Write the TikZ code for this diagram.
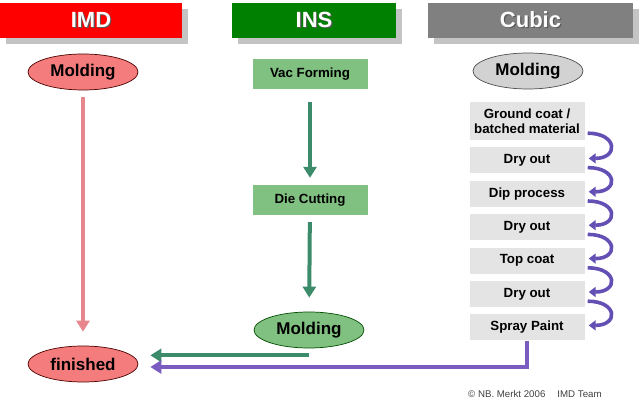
\documentclass[tikz,border=0pt]{standalone}
\usepackage{fontspec}
\setmainfont{Liberation Sans}
\usetikzlibrary{arrows.meta, shapes.geometric, positioning, shadows}

\definecolor{imdred}{HTML}{FF0000}
\definecolor{insgreen}{HTML}{008000}
\definecolor{cubicgray}{HTML}{808080}
\definecolor{barshadow}{HTML}{C4C4C4}
\definecolor{imdfill}{HTML}{F47C7C}
\definecolor{insfill}{HTML}{80C080}
\definecolor{cubicfill}{HTML}{D2D2D2}
\definecolor{stepfill}{HTML}{E4E4E4}
\definecolor{pinkline}{HTML}{E8868E}
\definecolor{greenline}{HTML}{3C8C6C}
\definecolor{purpleline}{HTML}{7A5CC0}
\definecolor{curlline}{HTML}{6450B4}

\newcommand\embossed[1]{\rlap{\kern1.2pt\raisebox{-1.2pt}{\color{black!65}#1}}#1}

\begin{document}
\begin{tikzpicture}[x=1pt, y=-1pt,
  headbar/.style={minimum height=35pt, inner sep=0pt, text=white,
    font=\fontsize{22}{24}\selectfont\bfseries,
    drop shadow={shadow xshift=6pt, shadow yshift=-6pt, fill=barshadow, opacity=1}},
  oval/.style={ellipse, draw, line width=0.7pt, minimum width=110pt, minimum height=36pt,
    inner sep=0pt, font=\fontsize{17}{19}\selectfont\bfseries},
  insbox/.style={fill=insfill, minimum width=115pt, minimum height=30pt, inner sep=0pt,
    font=\fontsize{13.3}{15}\selectfont\bfseries},
  stepbox/.style={fill=stepfill, minimum width=115pt, minimum height=26pt, inner sep=0pt,
    align=center, font=\fontsize{13.3}{15.5}\selectfont\bfseries},
  flow/.style={line width=4pt, -{Triangle[width=13pt,length=11pt]}},
  curl/.style={line width=3.6pt, draw=curlline, -{Triangle[width=10pt,length=7pt]}}]
\useasboundingbox (0,0) rectangle (640,411);
% IMD
\node[headbar, fill=imdred, minimum width=182pt] (imd) at (91,20.5) {\embossed{IMD}};
\node[oval, fill=imdfill, draw=black!70!red] (imdmold) at (83,72) {Molding};
\node[oval, fill=imdfill, draw=black!70!red] (finished) at (83,364) {finished};
\draw[flow, pinkline, shorten <=7pt, shorten >=14pt] (imdmold) -- (finished);
% INS
\node[headbar, fill=insgreen, minimum width=164pt] (ins) at (314,20.5) {\embossed{INS}};
\node[insbox] (vac) at (310,74) {Vac Forming};
\node[insbox] (die) at (310,200) {Die Cutting};
\node[oval, fill=insfill, draw=black!70!green] (insmold) at (309,330) {Molding};
\draw[flow, greenline, shorten <=13pt, shorten >=7pt] (vac) -- (die);
\draw[flow, greenline, shorten <=7pt, shorten >=14pt] (die) -- (insmold);
\draw[flow, greenline, shorten >=12pt] ([yshift=-7pt]insmold.south) -- ([yshift=-7pt]insmold.south -| finished.east);
% Cubic
\node[headbar, fill=cubicgray, minimum width=205pt] (cubic) at (530.5,20.5) {\embossed{Cubic}};
\node[oval, fill=cubicfill, draw=black!70] (cubmold) at (528,71) {Molding};
\node[stepbox, minimum height=38pt] (s1) at (527,121) {Ground coat /\\batched material};
\node[stepbox, below=7pt of s1] (s2) {Dry out};
\node[stepbox, below=7pt of s2] (s3) {Dip process};
\node[stepbox, below=7pt of s3] (s4) {Dry out};
\node[stepbox, below=7pt of s4] (s5) {Top coat};
\node[stepbox, below=7pt of s5] (s6) {Dry out};
\node[stepbox, below=7pt of s6] (s7) {Spray Paint};
\draw[curl] ([xshift=3pt,yshift=7pt]s1.south east) .. controls +(30pt,0pt) and +(30pt,0pt) .. ([xshift=4pt,yshift=2pt]s2.east);
\draw[curl] ([xshift=3pt,yshift=6pt]s2.south east) .. controls +(30pt,0pt) and +(30pt,0pt) .. ([xshift=4pt,yshift=2pt]s3.east);
\draw[curl] ([xshift=3pt,yshift=6pt]s3.south east) .. controls +(30pt,0pt) and +(30pt,0pt) .. ([xshift=4pt,yshift=2pt]s4.east);
\draw[curl] ([xshift=3pt,yshift=6pt]s4.south east) .. controls +(30pt,0pt) and +(30pt,0pt) .. ([xshift=4pt,yshift=2pt]s5.east);
\draw[curl] ([xshift=3pt,yshift=6pt]s5.south east) .. controls +(30pt,0pt) and +(30pt,0pt) .. ([xshift=4pt,yshift=2pt]s6.east);
\draw[curl] ([xshift=3pt,yshift=6pt]s6.south east) .. controls +(30pt,0pt) and +(30pt,0pt) .. ([xshift=4pt,yshift=2pt]s7.east);
\draw[flow, purpleline, shorten >=12pt] (s7.south) |- ([yshift=-3pt]finished.east);
% footer
\node[anchor=west, inner sep=0pt, text=black!75, font=\fontsize{9.7}{11}\selectfont] (credit) at (468,394)
  {\textcopyright{} NB. Merkt 2006\hspace{12pt}IMD Team};
\end{tikzpicture}
\end{document}
